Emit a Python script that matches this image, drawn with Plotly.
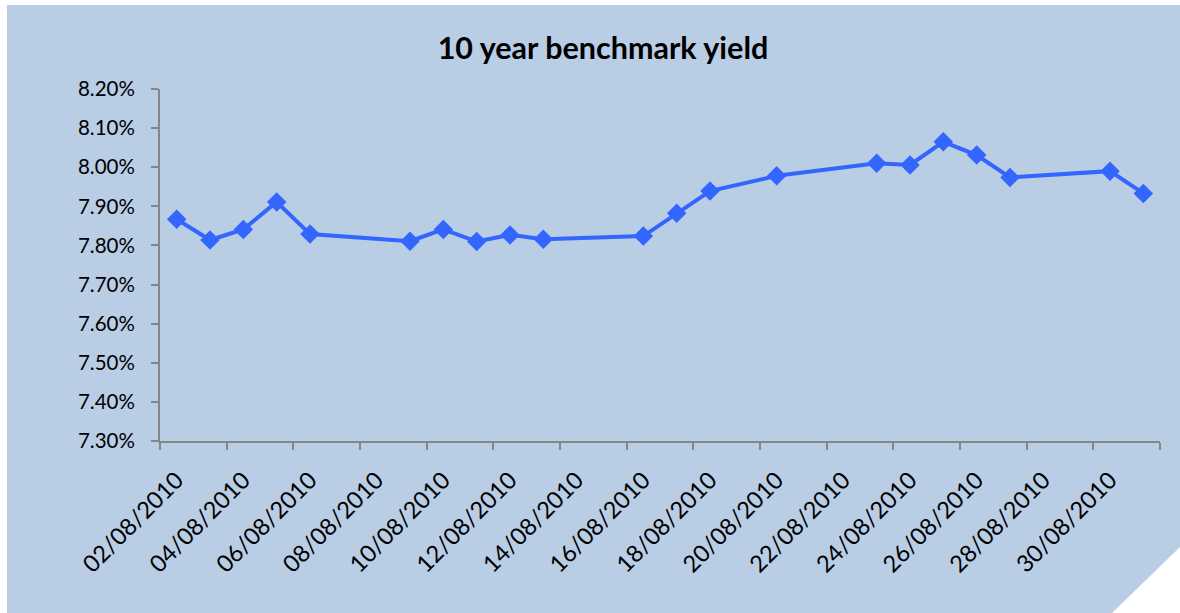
import plotly.graph_objects as go

# 10-year benchmark yield, daily closes, August 2010 (percent)
dates = ["2010-08-02", "2010-08-03", "2010-08-04", "2010-08-05", "2010-08-06",
         "2010-08-09", "2010-08-10", "2010-08-11", "2010-08-12", "2010-08-13",
         "2010-08-16", "2010-08-17", "2010-08-18", "2010-08-20", "2010-08-23",
         "2010-08-24", "2010-08-25", "2010-08-26", "2010-08-27", "2010-08-30",
         "2010-08-31"]
yields = [7.867, 7.814, 7.841, 7.911, 7.829,
          7.811, 7.841, 7.810, 7.827, 7.816,
          7.824, 7.882, 7.939, 7.978, 8.010,
          8.006, 8.065, 8.031, 7.974, 7.990,
          7.933]

label_days = ["2010-08-%02d" % d for d in range(2, 31, 2)]
label_text = ["%02d/08/2010" % d for d in range(2, 31, 2)]
y_ticks = [7.30 + 0.10 * i for i in range(10)]

BG = "#B9CDE5"
LINE = "#3366FF"
AXIS = "#868686"
FONT = "Lato"

# points sit in the middle of each day
x_mid = [d + " 12:00" for d in dates]

fig = go.Figure()
fig.add_trace(go.Scatter(
    x=x_mid, y=yields, mode="lines+markers",
    line=dict(color=LINE, width=4),
    marker=dict(symbol="diamond", size=15, color=LINE),
    hoverinfo="x+y", showlegend=False,
))

fig.update_layout(
    width=1180, height=613,
    margin=dict(l=160, r=20, t=89, b=172),
    paper_bgcolor=BG, plot_bgcolor=BG,
    font=dict(family=FONT, size=20, color="#000000"),
    title=dict(text="<b>10 year benchmark yield</b>", x=0.511, xanchor="center",
               y=1 - 48 / 613, yanchor="middle",
               font=dict(family=FONT, size=30.5, color="#000000")),
    xaxis=dict(
        type="date",
        range=["2010-08-02", "2010-09-01"],
        tickvals=[d + " 12:00" for d in label_days],
        ticktext=label_text,
        tickangle=-45,
        ticks="", showgrid=False, zeroline=False,
        showline=True, linecolor=AXIS, linewidth=2,
        ticklabelstandoff=14,
        tickfont=dict(family=FONT, size=23.5),
        minor=dict(ticks="outside", dtick=2 * 86400000, tick0="2010-08-02",
                   ticklen=7, tickwidth=2, tickcolor=AXIS, showgrid=False),
    ),
    yaxis=dict(
        range=[7.30, 8.20],
        tickvals=y_ticks,
        ticktext=["%.2f%%" % v for v in y_ticks],
        ticks="outside", ticklen=7, tickwidth=2, tickcolor=AXIS,
        showgrid=False, zeroline=False,
        showline=True, linecolor=AXIS, linewidth=2,
        ticklabelstandoff=12,
        tickfont=dict(family=FONT, size=20.5),
    ),
    shapes=[
        # white edge along the top and left of the card
        dict(type="rect", xref="paper", yref="paper",
             x0=-0.2, x1=1.05, y0=(441 - 5) / 352, y1=1.4,
             fillcolor="white", line=dict(width=0), layer="below"),
        dict(type="rect", xref="paper", yref="paper",
             x0=-0.2, x1=(7 - 160) / 1000, y0=-0.6, y1=1.4,
             fillcolor="white", line=dict(width=0), layer="below"),
        # folded bottom-right corner
        dict(type="path", xref="paper", yref="paper",
             path="M %f,%f L %f,%f L %f,%f Z" % (
                 (1180 - 160) / 1000, (441 - 547) / 352,
                 (1180 - 160) / 1000, (441 - 613) / 352,
                 (1112 - 160) / 1000, (441 - 613) / 352),
             fillcolor="white", line=dict(width=0), layer="above"),
    ],
)

fig.write_html("out.html")
